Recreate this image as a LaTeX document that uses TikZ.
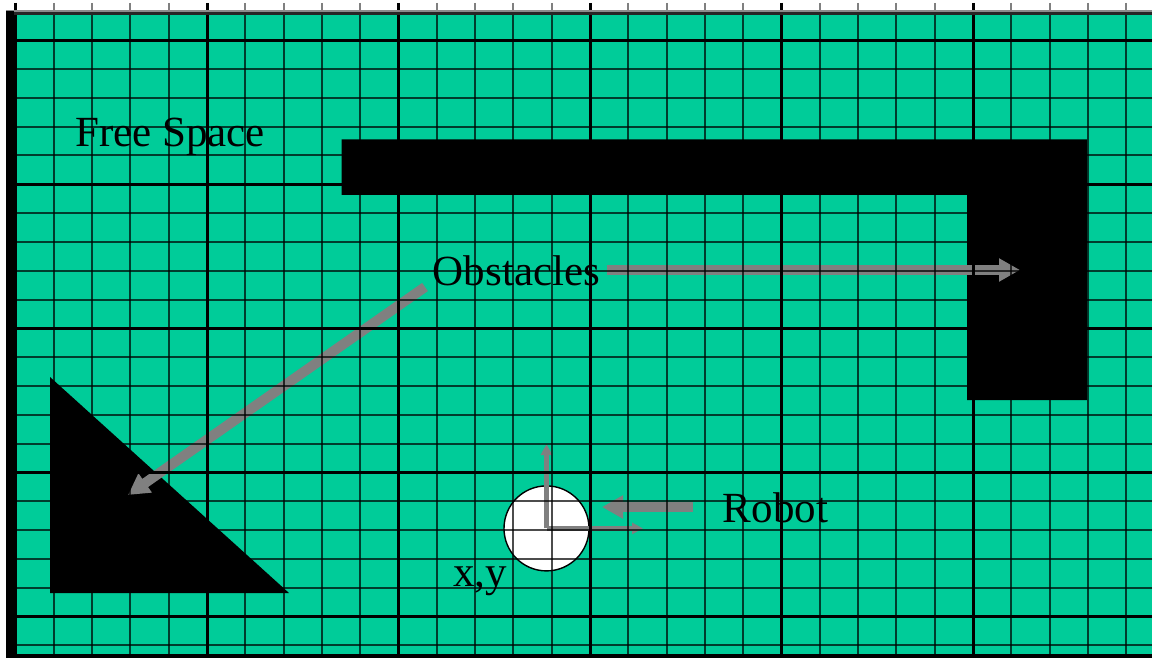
\documentclass[tikz,border=0pt]{standalone}
\usepackage{fontspec}
\setmainfont{Liberation Serif}
\usetikzlibrary{arrows.meta}
\definecolor{freegreen}{RGB}{0,204,153}
\definecolor{arrowgray}{RGB}{128,128,128}
\begin{document}
\begin{tikzpicture}[x=1pt,y=-1pt,
  minorline/.style={draw=black,line width=2pt,opacity=0.7},
  majorline/.style={draw=black,line width=3pt},
  obstacle/.style={fill=black,draw=none},
  bigarrow/.style={draw=arrowgray,line width=10pt,-{Triangle[width=22pt,length=21pt]}},
  framearrow/.style={draw=arrowgray,line width=4.5pt,-{Triangle[width=11pt,length=11pt]}},
  lbl/.style={font=\fontsize{43}{50}\selectfont,inner sep=0pt,anchor=base west,text=black}]
\useasboundingbox (0,0) rectangle (1152,658);
\fill[white] (0,0) rectangle (1152,658);
% free space
\fill[freegreen] (14,12) rectangle (1152,653.5);
% obstacles
\fill[obstacle] (341.7,139.5) -- (1087,139.5) -- (1087,400) -- (967,400) -- (967,195) -- (341.7,195) -- cycle;
\fill[obstacle] (50,377) -- (289,593) -- (50,593) -- cycle;
% robot
\node[circle,draw=black,fill=white,line width=1.4pt,minimum size=85pt,inner sep=0pt] (robot) at (546.5,528.4) {};
\coordinate (frameup) at (546.5,444);
\coordinate (frameright) at (643,528.4);
\draw[framearrow] (robot.center) -- (frameup);
\draw[framearrow] (robot.center) -- (frameright);
% arrows
\coordinate (obsttail) at (607,270);
\coordinate (obsthead) at (1020,270);
\coordinate (diagtail) at (425,287);
\coordinate (diaghead) at (128,495);
\coordinate (robottail) at (693,507);
\coordinate (robothead) at (602,507);
\draw[bigarrow] (obsttail) -- (obsthead);
\draw[bigarrow] (diagtail) -- (diaghead);
\draw[bigarrow] (robottail) -- (robothead);
% grid
\foreach \i in {0,...,29} {
  \pgfmathsetmacro\xx{15.5+38.3*\i}
  \draw[minorline] (\xx,12) -- (\xx,653.5);
  \draw[draw=black!50,line width=2pt] (\xx,3) -- (\xx,11);
}
\foreach \j in {0,...,22} {
  \pgfmathsetmacro\yy{11.2+28.83*\j}
  \draw[minorline] (14,\yy) -- (1152,\yy);
}
\foreach \i in {0,5,...,25} {
  \pgfmathsetmacro\xx{15.5+38.3*\i}
  \draw[majorline] (\xx,3) -- (\xx,653.5);
}
\foreach \j in {1,6,11,16,21} {
  \pgfmathsetmacro\yy{11.2+28.83*\j}
  \draw[majorline] (14,\yy) -- (1152,\yy);
}
% borders
\draw[draw=black!45,line width=2pt] (6,11) -- (1152,11);
\draw[draw=black!85,line width=2.5pt] (6,13.5) -- (1152,13.5);
\fill[black] (6,11) rectangle (14,658);
\fill[black] (6,653.5) rectangle (1152,658);
% labels
\node[lbl] (free) at (75,146.7) {Free Space};
\node[lbl] (obst) at (432.7,285) {Obstacles};
\node[lbl] (robotlbl) at (722.7,522.7) {Robot};
\node[lbl] (xy) at (453,586) {x,y};
\end{tikzpicture}
\end{document}
